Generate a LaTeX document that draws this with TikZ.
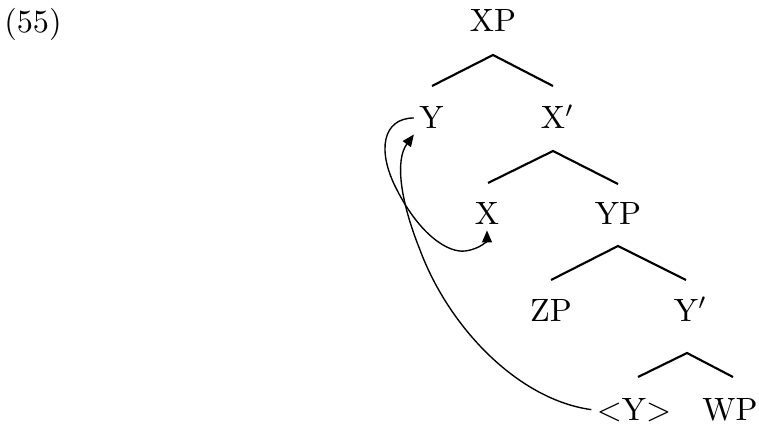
\documentclass[tikz,border=0pt]{standalone}
\usepackage{graphicx}
\usetikzlibrary{arrows.meta}
\newcommand{\bigtxt}[1]{\scalebox{1.29}{#1}}
\begin{document}
\begin{tikzpicture}[x=0.4pt,y=-0.4pt,
  lab/.style={anchor=base,inner sep=2pt,font=\fontsize{10}{12}\selectfont},
  branch/.style={line width=0.85pt,line join=miter},
  move/.style={line width=0.55pt,-{Triangle[length=4.8pt,width=4pt]}}]
\useasboundingbox (0,0) rectangle (759,425);
% example number
\node[lab] (num) at (33,33) {\bigtxt{(55)}};
% tree nodes
\node[lab] (XP) at (493,32) {\bigtxt{XP}};
\node[lab] (Y) at (431.5,129) {\bigtxt{Y}};
\node[lab] (Xbar) at (553,129) {\bigtxt{X\rlap{$'$}}};
\node[lab] (X) at (487,225) {\bigtxt{X}};
\node[lab] (YP) at (618,225) {\bigtxt{YP}};
\node[lab] (ZP) at (551,321) {\bigtxt{ZP}};
\node[lab] (Ybar) at (686,321) {\bigtxt{Y\rlap{$'$}}};
\node[lab] (Yt) at (634,420) {\bigtxt{$<$Y$>$}};
\node[lab] (WP) at (730,420) {\bigtxt{WP}};
% branches
\coordinate (a1) at (493,55);  \coordinate (l1) at (432,86);  \coordinate (r1) at (553,86);
\coordinate (a2) at (553,151); \coordinate (l2) at (488,183); \coordinate (r2) at (618,184);
\coordinate (a3) at (618,246); \coordinate (l3) at (551,280); \coordinate (r3) at (686,280);
\coordinate (a4) at (687,353); \coordinate (l4) at (638,377); \coordinate (r4) at (733,377);
\draw[branch] (l1) -- (a1) -- (r1);
\draw[branch] (l2) -- (a2) -- (r2);
\draw[branch] (l3) -- (a3) -- (r3);
\draw[branch] (l4) -- (a4) -- (r4);
% movement arrows
\draw[move] (Y.west) .. controls (383,118) and (376,150) .. (397,190)
  .. controls (420,235) and (448,253) .. (465,251)
  .. controls (481,249) and (487,240) .. (X.south);
\draw[move] (Yt.west) .. controls (520,400) and (450,330) .. (420,250)
  .. controls (400,200) and (395,160) .. (Y.south west);
\end{tikzpicture}
\end{document}
